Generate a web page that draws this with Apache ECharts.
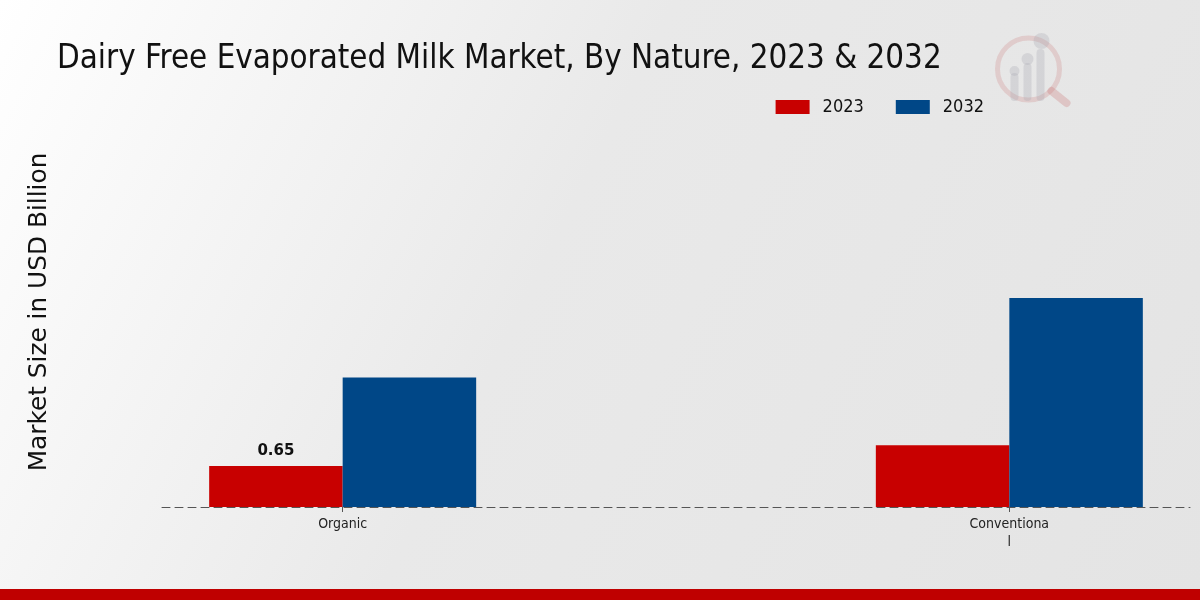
<!DOCTYPE html>
<html>
<head>
<meta charset="utf-8">
<script src="https://cdn.jsdelivr.net/npm/echarts@6/dist/echarts.min.js"></script>
<style>
html,body{margin:0;padding:0;}
#chart{width:1200px;height:600px;}
</style>
</head>
<body>
<div id="chart"></div>
<script>
const categories = ['Organic', 'Conventiona\nl'];
const seriesNames = ['2023', '2032'];
const values2023 = [0.65, 0.98];
const values2032 = [2.05, 3.31];
const labelShown2023 = [true, false];
const yAxisTitle = 'Market Size in USD Billion';

const chart = echarts.init(document.getElementById('chart'));
const condensed = '"DejaVu Sans Condensed", "DejaVu Sans", sans-serif';

function toPoints(vals) {
  return vals.map((v, i) => [i, v]);
}

const option = {
  animation: false,
  backgroundColor: {
    type: 'linear', x: 0, y: 0, x2: 1, y2: 1,
    colorStops: [{offset: 0, color: '#ffffff'}, {offset: 0.45, color: '#e9e9e9'}, {offset: 1, color: '#e4e4e4'}]
  },
  title: {
    text: 'Dairy Free Evaporated Milk Market, By Nature, 2023 & 2032',
    left: 52, top: 38,
    textStyle: {fontFamily: condensed, fontSize: 32.8, fontWeight: 'normal', color: '#111'}
  },
  legend: {
    data: seriesNames,
    right: 211, top: 93,
    itemWidth: 34, itemHeight: 14, itemGap: 32,
    textStyle: {fontFamily: condensed, fontSize: 18, color: '#111', padding: [0, 0, 0, 8]},
    icon: 'rect'
  },
  grid: {left: 162, right: 10, top: 223, bottom: 93},
  xAxis: {
    type: 'value',
    min: -0.271, max: 1.271,
    splitLine: {show: false},
    axisLine: {show: true, onZero: false, lineStyle: {color: '#555', type: [8, 5], width: 1}},
    axisTick: {show: true, customValues: [0, 1], length: 5, lineStyle: {color: '#555'}},
    axisLabel: {
      customValues: [0, 1],
      formatter: v => categories[Math.round(v)],
      fontFamily: condensed, fontSize: 14, color: '#222', margin: 8, lineHeight: 18
    }
  },
  yAxis: {
    type: 'value', min: 0, max: 4.5,
    axisLine: {show: false}, axisTick: {show: false}, axisLabel: {show: false},
    splitLine: {show: false}
  },
  series: [
    {
      name: '2023', type: 'bar', barWidth: 133.5, barGap: '0%',
      itemStyle: {color: '#c80000'},
      data: toPoints(values2023).map((p, i) => ({
        value: p,
        label: {show: labelShown2023[i], position: 'top', formatter: () => values2023[i].toFixed(2),
          fontFamily: '"DejaVu Sans", sans-serif', fontSize: 15, fontWeight: 'bold', color: '#111', distance: 7}
      }))
    },
    {
      name: '2032', type: 'bar', barWidth: 133.5, barGap: '0%',
      itemStyle: {color: '#004787'},
      data: toPoints(values2032)
    }
  ],
  graphic: [
    {type: 'text', x: 40, y: 312, rotation: Math.PI / 2, silent: true,
      style: {text: yAxisTitle, fontFamily: '"DejaVu Sans", sans-serif', fontSize: 24.8, fill: '#111',
        align: 'center', verticalAlign: 'middle'}},
    {type: 'rect', left: 0, top: 589, shape: {width: 1200, height: 11}, style: {fill: '#bf0000'}, silent: true},
    {type: 'group', left: 995, top: 33, silent: true, children: [
      {type: 'circle', shape: {cx: 32, cy: 38, r: 31}, style: {fill: 'none', stroke: 'rgba(200,110,110,0.22)', lineWidth: 5}},
      {type: 'line', shape: {x1: 55, y1: 60, x2: 70, y2: 72}, style: {stroke: 'rgba(200,110,110,0.28)', lineWidth: 8, lineCap: 'round'}},
      {type: 'rect', shape: {x: 14, y: 42, width: 8, height: 28, r: 4}, style: {fill: 'rgba(170,170,180,0.3)'}},
      {type: 'rect', shape: {x: 27, y: 32, width: 8, height: 38, r: 4}, style: {fill: 'rgba(170,170,180,0.3)'}},
      {type: 'rect', shape: {x: 40, y: 18, width: 8, height: 52, r: 4}, style: {fill: 'rgba(170,170,180,0.3)'}},
      {type: 'circle', shape: {cx: 18, cy: 40, r: 5}, style: {fill: 'rgba(170,170,180,0.3)'}},
      {type: 'circle', shape: {cx: 31, cy: 28, r: 6}, style: {fill: 'rgba(170,170,180,0.3)'}},
      {type: 'circle', shape: {cx: 45, cy: 10, r: 8}, style: {fill: 'rgba(170,170,180,0.3)'}}
    ]}
  ]
};
chart.setOption(option);
</script>
</body>
</html>
